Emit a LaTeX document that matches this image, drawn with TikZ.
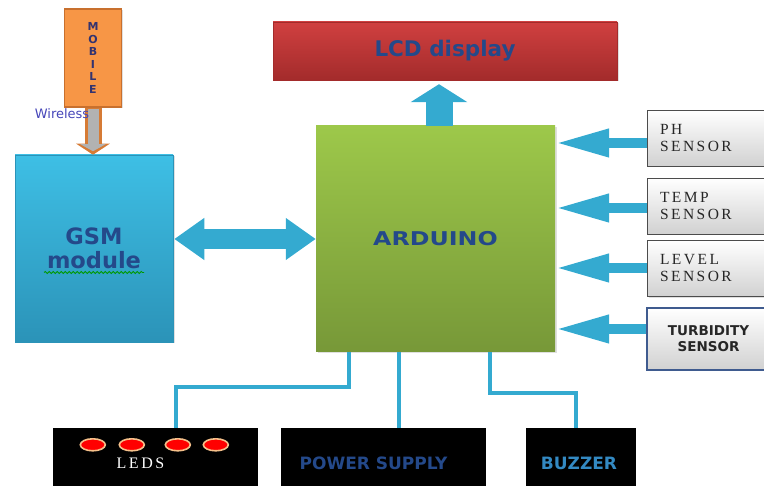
\documentclass[tikz,border=0pt]{standalone}
\usepackage{fontspec}
\setmainfont{Liberation Serif}
\newfontfamily\dvs{DejaVu Sans}
\newfontfamily\sensfont[LetterSpace=16]{Liberation Serif}
\usetikzlibrary{arrows.meta,calc,decorations.pathmorphing,shadows}
\definecolor{cy}{HTML}{34AAD0}
\definecolor{txtblue}{HTML}{24498A}
\definecolor{orfill}{HTML}{F79646}
\definecolor{ordraw}{HTML}{C8702E}
\definecolor{peach}{HTML}{F5C08A}
\definecolor{ardtop}{HTML}{9DC84A}
\definecolor{ardbot}{HTML}{779838}
\definecolor{lcdtop}{HTML}{D04040}
\definecolor{lcdbot}{HTML}{A32B2B}
\definecolor{gsmtop}{HTML}{3EBFE5}
\definecolor{gsmbot}{HTML}{2B93B8}
\definecolor{turbdraw}{HTML}{3F5B8F}
\begin{document}
\begin{tikzpicture}[x=1pt,y=-1pt,
  shad/.style={drop shadow={opacity=0.25,shadow xshift=1.5pt,shadow yshift=-1.5pt}},
  blockbox/.style={inner sep=0pt,shad},
  sensorbox/.style={blockbox,draw=black!70,line width=0.8pt,top color=white,bottom color=black!18,
     minimum width=123pt,minimum height=56pt,text width=97pt,align=left,
     font=\sensfont\fontsize{15.5}{17}\selectfont,text=black!85},
  blackbox/.style={fill=black,inner sep=0pt,minimum height=62pt},
  sarrow/.style={cy,line width=10pt,-{Triangle[width=26pt,length=54pt]}},
  conn/.style={cy,line width=4.5pt}
]
\useasboundingbox (0,0) rectangle (764,486);

% blocks
\node[blockbox,draw=ordraw,line width=1.5pt,fill=orfill,minimum width=57pt,minimum height=98pt,
      align=center,text=black!60!blue!60!gray,font=\dvs\bfseries\fontsize{11}{12.6}\selectfont]
      (mob) at (93,58) {M\\O\\B\\I\\L\\E};

\node[blockbox,draw=gsmbot,line width=0.5pt,top color=gsmtop,bottom color=gsmbot,
      minimum width=158pt,minimum height=187pt,align=center,text=txtblue,
      font=\dvs\bfseries\fontsize{22.5}{24}\selectfont] (gsm) at (94,248.5) {GSM\\module};

\node[blockbox,top color=ardtop,bottom color=ardbot,
      minimum width=239pt,minimum height=226pt,text=txtblue,
      font=\dvs\bfseries\fontsize{19}{22}\selectfont] (ard) at (435.5,239) {\scalebox{1.25}[1]{ARDUINO}};

\node[blockbox,top color=lcdtop,bottom color=lcdbot,draw=lcdbot,line width=0.4pt,
      minimum width=344pt,minimum height=58pt,text=txtblue,
      font=\dvs\bfseries\fontsize{21.5}{24}\selectfont] (lcd) at (445,51) {LCD display};

\node[sensorbox] (ph) at (708.5,138) {PH\\SENSOR};
\node[sensorbox] (temp) at (708.5,206) {TEMP\\SENSOR};
\node[sensorbox] (level) at (708.5,268.5) {LEVEL\\SENSOR};
\node[sensorbox,draw=turbdraw,line width=1.6pt,minimum height=62pt,text width=123pt,align=center,
      font=\dvs\bfseries\fontsize{13.5}{16}\selectfont] (turb) at (708.5,339) {TURBIDITY\\SENSOR};

\node[blackbox,minimum width=205pt] (leds) at (155.5,459) {};
\node[blackbox,minimum width=205pt] (power) at (383.5,459) {};
\node[blackbox,minimum width=110pt] (buz) at (581,459) {};

\foreach \dx in {40,79,125,163}
  \draw[fill=red,draw=peach,line width=1.6pt] ($(leds.north west)+(\dx,17)$) ellipse (12.5pt and 6pt);
\node[text=white,font=\sensfont\fontsize{16}{17}\selectfont] (ledt) at ($(leds.center)+(-15,4)$) {LEDS};
\node[text=txtblue,font=\dvs\bfseries\fontsize{17}{18}\selectfont] (powt) at ($(power.center)+(-10,4)$) {POWER SUPPLY};
\node[text=blue!40!cyan!70!black!80!white,font=\dvs\bfseries\fontsize{17}{18}\selectfont] (buzt) at ($(buz.center)+(-2,4)$) {BUZZER};

% green wavy underline
\draw[green!60!black,line width=0.8pt,decorate,decoration={snake,amplitude=1pt,segment length=4pt}]
  ($(gsm.center)+(-50,24)$) -- ++(100,0);

% connectors
\draw[ordraw!70!orfill,line width=17pt,-{Triangle[width=33pt,length=11pt]}] (mob.south) -- (mob.south |- gsm.north);
\draw[black!30,line width=11pt,-{Triangle[width=25pt,length=7pt]}] ([yshift=-1pt]mob.south) -- ($(mob.south |- gsm.north)+(0,-3.5)$);
\node[font=\dvs\fontsize{13}{15}\selectfont,text=blue!45!gray] (wl) at (62,114) {Wireless};

\draw[cy,line width=20pt,{Triangle[width=40pt,length=30pt]}-{Triangle[width=40pt,length=30pt]}]
  ([xshift=1pt]gsm.east |- ard.west) -- (ard.west);

\draw[cy,line width=27pt,-{Triangle[width=56pt,length=18pt]}] ([xshift=3.5pt]ard.north) -- ([xshift=3.5pt,yshift=-4pt]ard.north |- lcd.south);

\draw[sarrow] ([yshift=-5pt]ph.west) -- ([yshift=-5pt]ph.west -| ard.east);
\draw[sarrow] ([yshift=-2pt]temp.west) -- ([yshift=-2pt]temp.west -| ard.east);
\draw[sarrow] ([yshift=0.5pt]level.west) -- ([yshift=0.5pt]level.west -| ard.east);
\draw[sarrow] ([yshift=10pt]turb.west) -- ([yshift=10pt]turb.west -| ard.east);

\draw[conn] ([xshift=-86.5pt]ard.south) -- ++(0,35) -| ([xshift=20.5pt]leds.north);
\draw[conn] ([xshift=-36.5pt]ard.south) -- ([xshift=-36.5pt]ard.south |- power.north);
\draw[conn] ([xshift=54.5pt]ard.south) -- ++(0,41) -| ([xshift=-5pt]buz.north);
\end{tikzpicture}
\end{document}
